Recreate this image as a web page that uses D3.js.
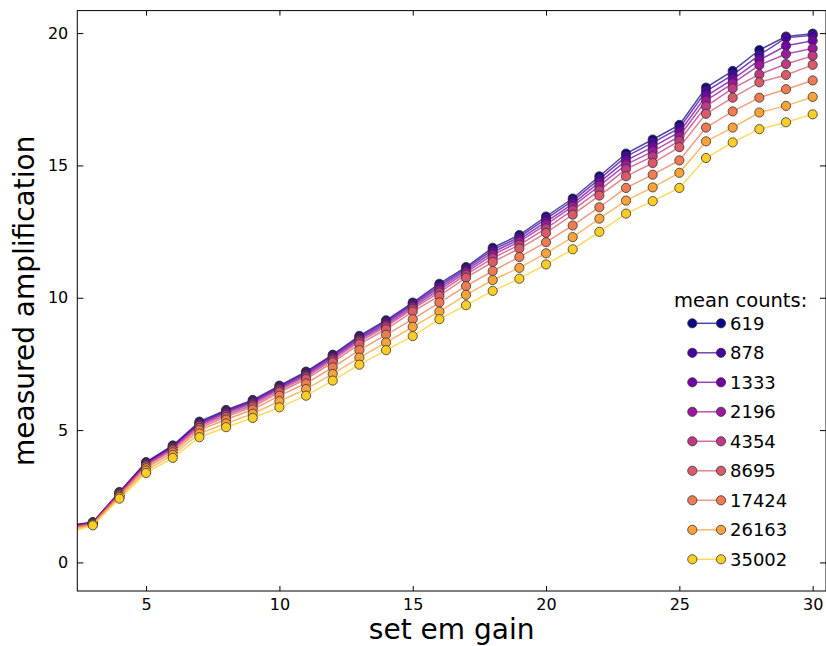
<!DOCTYPE html>
<html>
<head>
<meta charset="utf-8">
<script src="https://cdn.jsdelivr.net/npm/d3@7"></script>
<style>
  body { margin: 0; background: #fff; }
  text { font-family: "DejaVu Sans", sans-serif; fill: #000; }
</style>
</head>
<body>
<div class="chart"></div>
<script>
// em gain setting (x) and measured amplification per mean-count level
const gains = [2,3,4,5,6,7,8,9,10,11,12,13,14,15,16,17,18,19,20,21,22,23,24,25,26,27,28,29,30];
const counts = [619, 878, 1333, 2196, 4354, 8695, 17424, 26163, 35002];

const amp619   = [1.38,1.52,2.66,3.79,4.42,5.32,5.76,6.14,6.68,7.21,7.85,8.56,9.15,9.82,10.53,11.16,11.89,12.37,13.07,13.75,14.59,15.45,15.98,16.53,17.94,18.57,19.36,19.87,19.98];
const amp878   = [1.36,1.51,2.64,3.77,4.39,5.28,5.72,6.10,6.64,7.17,7.81,8.51,9.10,9.77,10.46,11.10,11.81,12.29,12.98,13.66,14.48,15.33,15.86,16.41,17.80,18.42,19.17,19.82,19.92];
const amp1333  = [1.34,1.50,2.63,3.74,4.36,5.24,5.68,6.06,6.60,7.12,7.76,8.46,9.04,9.71,10.38,11.03,11.72,12.21,12.87,13.55,14.36,15.18,15.70,16.26,17.62,18.25,18.98,19.52,19.71];
const amp2196  = [1.33,1.50,2.61,3.71,4.33,5.20,5.63,6.01,6.56,7.07,7.71,8.41,8.98,9.65,10.30,10.96,11.62,12.12,12.76,13.45,14.23,15.03,15.53,16.10,17.45,18.10,18.79,19.21,19.42];
const amp4354  = [1.30,1.48,2.59,3.67,4.29,5.15,5.57,5.95,6.50,7.01,7.64,8.34,8.91,9.58,10.20,10.87,11.50,12.00,12.62,13.31,14.06,14.86,15.34,15.93,17.23,17.91,18.44,18.83,19.14];
const amp8695  = [1.27,1.47,2.56,3.63,4.24,5.08,5.50,5.88,6.43,6.93,7.56,8.25,8.81,9.48,10.07,10.76,11.35,11.86,12.45,13.14,13.86,14.59,15.09,15.69,16.95,17.56,18.14,18.42,18.80];
const amp17424 = [1.22,1.45,2.52,3.56,4.16,5.00,5.40,5.78,6.30,6.76,7.37,8.02,8.60,9.19,9.82,10.44,11.01,11.54,12.10,12.73,13.42,14.15,14.65,15.19,16.43,17.04,17.56,17.88,18.21];
const amp26163 = [1.16,1.43,2.47,3.47,4.06,4.87,5.25,5.62,6.09,6.55,7.12,7.74,8.31,8.90,9.48,10.11,10.67,11.13,11.68,12.29,12.99,13.67,14.17,14.72,15.91,16.43,17.00,17.25,17.59];
const amp35002 = [1.09,1.40,2.41,3.38,3.95,4.73,5.11,5.46,5.86,6.30,6.87,7.47,8.02,8.55,9.19,9.72,10.26,10.72,11.26,11.83,12.49,13.18,13.65,14.15,15.28,15.87,16.37,16.63,16.93];

const xTicks = [5, 10, 15, 20, 25, 30];
const yTicks = [0, 5, 10, 15, 20];

const allAmps = [amp619, amp878, amp1333, amp2196, amp4354, amp8695, amp17424, amp26163, amp35002];
const series = counts.map((c, i) => ({
  count: c,
  color: d3.interpolatePlasma(i / 8 * 0.9),
  points: gains.map((g, j) => ({x: g, y: allAmps[i][j]}))
}));

const W = 826, H = 646;
const box = {left: 77.3, right: 826, top: 10.6, bottom: 591};

const svg = d3.select('.chart').append('svg')
    .attr('width', W)
    .attr('height', H);

const xScale = d3.scaleLinear().domain([2.42, 30.5]).range([box.left, box.right]);
const yScale = d3.scaleLinear().domain([-1.08, 20.85]).range([box.bottom, box.top]);

svg.append('clipPath').attr('id', 'clip')
  .append('rect')
    .attr('x', box.left).attr('y', box.top)
    .attr('width', box.right - box.left).attr('height', box.bottom - box.top);

// series: line then markers, in order
const plot = svg.append('g').attr('clip-path', 'url(#clip)');
const line = d3.line().x(d => xScale(d.x)).y(d => yScale(d.y));

series.forEach(s => {
  const g = plot.append('g');
  g.append('path')
    .attr('d', line(s.points))
    .attr('fill', 'none')
    .attr('stroke', s.color)
    .attr('stroke-opacity', 0.75)
    .attr('stroke-width', 1.5);
  g.selectAll('circle')
    .data(s.points)
    .enter()
    .append('circle')
    .attr('cx', d => xScale(d.x))
    .attr('cy', d => yScale(d.y))
    .attr('r', 4.6)
    .attr('fill', s.color)
    .attr('stroke', '#333')
    .attr('stroke-opacity', 0.8)
    .attr('stroke-width', 1);
});

// axes, ticks pointing inward on all sides
const xAxis = d3.axisBottom(xScale).tickValues(xTicks).tickSize(-5).tickSizeOuter(0).tickPadding(8);
const yAxis = d3.axisLeft(yScale).tickValues(yTicks).tickSize(-6).tickSizeOuter(0).tickPadding(9);

const gx = svg.append('g')
  .attr('transform', `translate(0,${box.bottom})`)
  .call(xAxis);
const gy = svg.append('g')
  .attr('transform', `translate(${box.left},0)`)
  .call(yAxis);
svg.append('g')
  .attr('transform', `translate(0,${box.top})`)
  .call(d3.axisTop(xScale).tickValues(xTicks).tickSize(-5).tickSizeOuter(0).tickFormat(''));
svg.append('g')
  .attr('transform', `translate(${box.right},0)`)
  .call(d3.axisRight(yScale).tickValues(yTicks).tickSize(-6).tickSizeOuter(0).tickFormat(''));

svg.selectAll('.domain').remove();
svg.selectAll('.tick line').attr('stroke', '#000');
[gx, gy].forEach(g => g.selectAll('text')
  .attr('font-size', 16)
  .attr('font-family', '"DejaVu Sans", sans-serif')
  .attr('fill', '#222'));

svg.append('rect')
  .attr('x', box.left).attr('y', box.top)
  .attr('width', box.right - box.left).attr('height', box.bottom - box.top)
  .attr('fill', 'none')
  .attr('stroke', '#000')
  .attr('stroke-width', 1);

// axis labels
svg.append('text')
  .attr('x', (box.left + box.right) / 2)
  .attr('y', 639)
  .attr('text-anchor', 'middle')
  .attr('font-size', 28)
  .text('set em gain');

svg.append('text')
  .attr('transform', `translate(34,${(box.top + box.bottom) / 2}) rotate(-90)`)
  .attr('text-anchor', 'middle')
  .attr('font-size', 28)
  .text('measured amplification');

// legend
const legend = svg.append('g');
legend.append('text')
  .attr('x', 674)
  .attr('y', 307)
  .attr('font-size', 19.5)
  .text('mean counts:');

const rows = legend.selectAll('g.row')
  .data(series)
  .enter()
  .append('g')
  .attr('class', 'row')
  .attr('transform', (d, i) => `translate(0,${323.3 + i * 29.5})`);

rows.append('line')
  .attr('x1', 692.3).attr('x2', 721)
  .attr('stroke', d => d.color)
  .attr('stroke-opacity', 0.75)
  .attr('stroke-width', 1.5);
rows.selectAll('circle')
  .data(d => [d, d])
  .enter()
  .append('circle')
  .attr('cx', (d, i) => i ? 721 : 692.3)
  .attr('r', 4.6)
  .attr('fill', d => d.color)
  .attr('stroke', '#333')
  .attr('stroke-opacity', 0.8);
rows.append('text')
  .attr('x', 730)
  .attr('y', 6.5)
  .attr('font-size', 18)
  .text(d => d.count);
</script>
</body>
</html>
